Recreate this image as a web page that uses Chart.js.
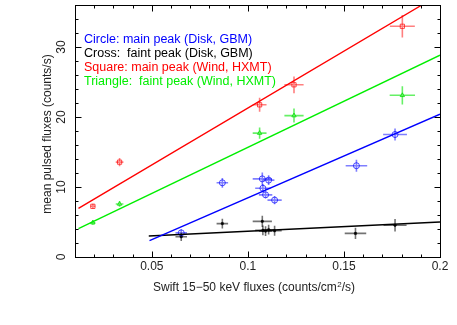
<!DOCTYPE html>
<html>
<head>
<meta charset="utf-8">
<script src="https://cdn.jsdelivr.net/npm/chart.js@4"></script>
<style>
  body { margin: 0; background: #fff; }
  canvas { display: block; }
</style>
</head>
<body>
<canvas id="myChart" width="457" height="325"></canvas>
<script>
// data (x = Swift flux, y = pulsed flux)
const blueX = [0.0653, 0.0867, 0.1075, 0.1108, 0.1078, 0.1092, 0.1139, 0.1565, 0.1766];
const blueY = [3.45, 10.6, 11.16, 10.98, 9.82, 8.88, 8.13, 13.04, 17.5];
const blueXErr = [0.003, 0.003, 0.005, 0.003, 0.004, 0.0035, 0.0037, 0.0056, 0.0062];
const blueYErr = [0.5, 0.7, 0.9, 0.7, 0.6, 0.5, 0.6, 0.85, 0.85];

const blackX = [0.0653, 0.0867, 0.1075, 0.1108, 0.1078, 0.1092, 0.1139, 0.156, 0.1766];
const blackY = [2.9, 4.77, 5.09, 3.9, 3.8, 3.7, 3.75, 3.37, 4.53];
const blackXErr = [0.003, 0.003, 0.005, 0.003, 0.004, 0.0035, 0.0037, 0.0056, 0.006];
const blackYErr = [0.6, 0.7, 0.8, 0.7, 0.7, 0.7, 0.7, 0.8, 0.9];

const redX = [0.0193, 0.0332, 0.1061, 0.124, 0.1804];
const redY = [7.24, 13.55, 21.74, 24.6, 32.96];
const redXErr = [0.0013, 0.002, 0.0036, 0.005, 0.0065];
const redYErr = [0.35, 0.6, 1.0, 1.2, 1.6];

const greenX = [0.0193, 0.0332, 0.1061, 0.124, 0.1804];
const greenY = [4.9, 7.57, 17.7, 20.2, 23.1];
const greenXErr = [0.0013, 0.002, 0.0036, 0.005, 0.0066];
const greenYErr = [0.3, 0.4, 0.8, 1.0, 1.3];

// linear fits (end points)
const redFitX = [0.0118, 0.1906];
const redFitY = [6.96, 36];
const greenFitX = [0.0118, 0.2];
const greenFitY = [4.07, 28.84];
const blueFitX = [0.0488, 0.2];
const blueFitY = [2.33, 20.4];
const blackFitX = [0.0484, 0.2];
const blackFitY = [2.99, 5.0];

const xMajor = [0.05, 0.1, 0.15, 0.2];
const xTickLabels = ["0.05", "0.1", "0.15", "0.2"];
const yMajor = [0, 10, 20, 30];
const yTickLabels = ["0", "10", "20", "30"];

const legendLines = [
  ["Circle: main peak (Disk, GBM)", "#0000ff"],
  ["Cross:  faint peak (Disk, GBM)", "#000000"],
  ["Square: main peak (Wind, HXMT)", "#ff0000"],
  ["Triangle:  faint peak (Wind, HXMT)", "#00ee00"],
];

const FONT = '12px "Liberation Sans", Arial, sans-serif';

function pts(xs, ys) {
  return xs.map((x, i) => ({ x: x, y: ys[i] }));
}

const errSets = [
  [blueX, blueY, blueXErr, blueYErr, "rgba(0,0,255,0.5)"],
  [blackX, blackY, blackXErr, blackYErr, "rgba(0,0,0,0.55)"],
  [redX, redY, redXErr, redYErr, "rgba(255,0,0,0.5)"],
  [greenX, greenY, greenXErr, greenYErr, "rgba(0,230,0,0.6)"],
];

const errorBars = {
  id: "errorBars",
  beforeDatasetsDraw(chart) {
    const ctx = chart.ctx;
    const xs = chart.scales.x, ys = chart.scales.y;
    ctx.save();
    ctx.lineWidth = 1.6;
    errSets.forEach(([X, Y, XE, YE, col]) => {
      ctx.strokeStyle = col;
      X.forEach((x, i) => {
        const px = xs.getPixelForValue(x), py = ys.getPixelForValue(Y[i]);
        ctx.beginPath();
        ctx.moveTo(xs.getPixelForValue(x - XE[i]), py);
        ctx.lineTo(xs.getPixelForValue(x + XE[i]), py);
        ctx.moveTo(px, ys.getPixelForValue(Y[i] - YE[i]));
        ctx.lineTo(px, ys.getPixelForValue(Y[i] + YE[i]));
        ctx.stroke();
      });
    });
    ctx.restore();
  },
};

const frame = {
  id: "frame",
  afterDraw(chart) {
    const ctx = chart.ctx;
    const a = chart.chartArea;
    const xs = chart.scales.x, ys = chart.scales.y;
    const L = Math.round(a.left) + 0.5, R = Math.round(a.right) + 0.5;
    const T = Math.round(a.top) + 0.5, B = Math.round(a.bottom) + 0.5;
    ctx.save();
    ctx.strokeStyle = "#000";
    ctx.lineWidth = 1;
    ctx.strokeRect(L, T, R - L, B - T);

    // inward ticks, x: minor every 0.01
    ctx.beginPath();
    for (let k = 1; k <= 20; k++) {
      const v = k / 100;
      const px = Math.round(xs.getPixelForValue(v)) + 0.5;
      const len = k % 5 === 0 ? 6 : 3;
      ctx.moveTo(px, B); ctx.lineTo(px, B - len);
      ctx.moveTo(px, T); ctx.lineTo(px, T + len);
    }
    // y: minor every 2
    for (let v = 0; v <= 36; v += 2) {
      const py = Math.round(ys.getPixelForValue(v)) + 0.5;
      const len = v % 10 === 0 ? 6 : 3;
      ctx.moveTo(L, py); ctx.lineTo(L + len, py);
      ctx.moveTo(R, py); ctx.lineTo(R - len, py);
    }
    ctx.stroke();

    ctx.fillStyle = "#222";
    ctx.font = FONT;
    ctx.textAlign = "center";
    ctx.textBaseline = "middle";
    xMajor.forEach((v, i) => {
      ctx.fillText(xTickLabels[i], xs.getPixelForValue(v), 267);
    });
    yMajor.forEach((v, i) => {
      ctx.save();
      ctx.translate(62, ys.getPixelForValue(v));
      ctx.rotate(-Math.PI / 2);
      ctx.fillText(yTickLabels[i], 0, 0);
      ctx.restore();
    });

    // axis titles
    ctx.save();
    ctx.translate(48, 134);
    ctx.rotate(-Math.PI / 2);
    ctx.fillText("mean pulsed fluxes (counts/s)", 0, 0);
    ctx.restore();

    ctx.textAlign = "left";
    const t1 = "Swift 15\u221250 keV fluxes (counts/cm";
    let x0 = 153;
    ctx.fillText(t1, x0, 288);
    x0 += ctx.measureText(t1).width;
    ctx.font = '8px "Liberation Sans", Arial, sans-serif';
    ctx.fillText("2", x0 + 0.5, 285);
    x0 += ctx.measureText("2").width + 0.5;
    ctx.font = FONT;
    ctx.fillText("/s)", x0, 288);

    // legend
    ctx.font = '12.5px "Liberation Sans", Arial, sans-serif';
    legendLines.forEach(([txt, col], i) => {
      ctx.fillStyle = col;
      ctx.fillText(txt, 84, 40 + i * 14);
    });
    ctx.restore();
  },
};

function fitLine(xs, ys, color) {
  return {
    data: pts(xs, ys),
    showLine: true,
    borderColor: color,
    borderWidth: 1.4,
    pointRadius: 0,
    fill: false,
  };
}

const myChart = new Chart(document.getElementById("myChart"), {
  type: "scatter",
  data: {
    datasets: [
      fitLine(redFitX, redFitY, "#ff0000"),
      fitLine(greenFitX, greenFitY, "#00ee00"),
      fitLine(blueFitX, blueFitY, "#0000ff"),
      fitLine(blackFitX, blackFitY, "#000000"),
      {
        data: pts(blueX, blueY),
        pointStyle: "circle",
        pointRadius: 3,
        borderColor: "rgba(0,0,255,0.7)",
        backgroundColor: "transparent",
        borderWidth: 1,
      },
      {
        data: pts(blackX, blackY),
        pointStyle: "circle",
        pointRadius: 1.3,
        borderColor: "#000",
        backgroundColor: "#000",
        borderWidth: 0.5,
      },
      {
        data: pts(redX, redY),
        pointStyle: "rect",
        pointRadius: 3,
        borderColor: "rgba(255,0,0,0.7)",
        backgroundColor: "transparent",
        borderWidth: 1,
      },
      {
        data: pts(greenX, greenY),
        pointStyle: "triangle",
        pointRadius: 2.5,
        borderColor: "rgba(0,220,0,0.8)",
        backgroundColor: "transparent",
        borderWidth: 1,
      },
    ],
  },
  options: {
    responsive: false,
    animation: false,
    layout: { padding: { left: 75, right: 17, top: 1, bottom: 68 } },
    plugins: { legend: { display: false }, tooltip: { enabled: false } },
    scales: {
      x: { type: "linear", min: 0.01, max: 0.2, display: false },
      y: { type: "linear", min: 0, max: 36, display: false },
    },
  },
  plugins: [errorBars, frame],
});
</script>
</body>
</html>
